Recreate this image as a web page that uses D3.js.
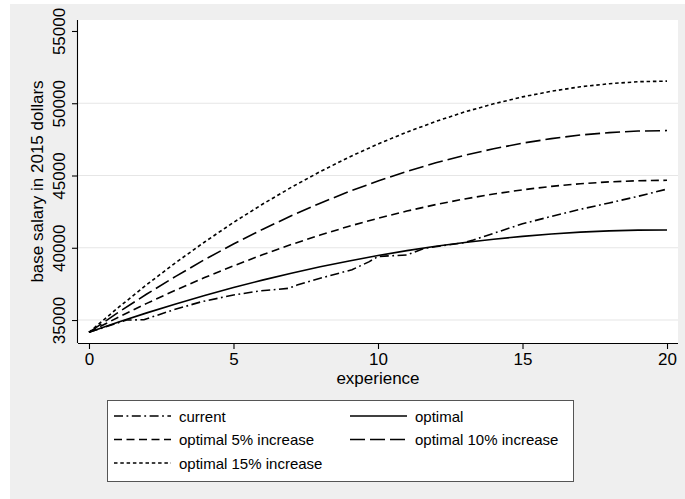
<!DOCTYPE html>
<html>
<head>
<meta charset="utf-8">
<script src="https://cdn.jsdelivr.net/npm/d3@7"></script>
<style>
  body { margin: 0; background: #ffffff; }
  text { font-family: "Liberation Sans", Arial, Helvetica, sans-serif; fill: #000; }
</style>
</head>
<body>
<div id="chart"></div>
<script>
// years of experience for the optimal paths
var years = [0,1,2,3,4,5,6,7,8,9,10,11,12,13,14,15,16,17,18,19,20];

// salary paths
var optimal    = [34150,34840,35495,36115,36700,37250,37760,38240,38680,39090,39460,39800,40100,40360,40590,40790,40950,41080,41170,41220,41230];
var optimal5   = [34150,35180,36150,37070,37940,38750,39515,40225,40880,41490,42040,42540,42990,43380,43720,44010,44250,44430,44560,44640,44670];
var optimal10  = [34150,35510,36800,38020,39180,40260,41270,42210,43085,43890,44620,45280,45880,46400,46850,47240,47550,47800,47970,48075,48110];
var optimal15  = [34150,35840,37450,38970,40400,41750,43010,44180,45270,46270,47180,48000,48740,49400,49960,50440,50830,51140,51350,51490,51530];

// the current schedule is observed at uneven points
var currentYears = [0,1.3,1.9,2.9,3.9,5.0,5.9,6.9,7.2,8.2,9.1,9.7,10.0,11.0,11.6,13.0,13.3,14.0,15.0,16.0,17.0,18.0,19.0,20];
var current      = [34150,35000,35020,35690,36270,36730,37010,37190,37420,38000,38480,39040,39400,39500,39960,40360,40540,41000,41660,42170,42660,43100,43560,44060];

var xTicks = [0,5,10,15,20];
var yTicks = [35000,40000,45000,50000,55000];

var legendNames = ["current","optimal","optimal 5% increase","optimal 10% increase","optimal 15% increase"];
var dashes = ["9,3.5,1.8,3.5", null, "8,4.5", "15,5", "3.5,2.8"];

var svgWidth = 685, svgHeight = 499;
var margin = {top: 20, right: 7, bottom: 156, left: 78};
var width = svgWidth - margin.left - margin.right;   // 600
var height = svgHeight - margin.top - margin.bottom; // 323

var svg = d3.select("#chart").append("svg")
  .attr("width", svgWidth)
  .attr("height", svgHeight);

// graph region
svg.append("rect")
  .attr("x", 10).attr("y", 4)
  .attr("width", svgWidth - 10).attr("height", svgHeight - 4)
  .attr("fill", "#efefef");

var chartGroup = svg.append("g")
  .attr("transform", `translate(${margin.left}, ${margin.top})`);

chartGroup.append("rect")
  .attr("width", width).attr("height", height)
  .attr("fill", "#fff");

var x = d3.scaleLinear().domain([-0.38, 20.38]).range([0, width]);
var y = d3.scaleLinear().domain([33410, 55760]).range([height, 0]);

// grid
chartGroup.selectAll(".grid")
  .data(yTicks.slice(0, 4))
  .enter().append("line")
  .attr("x1", 0).attr("x2", width)
  .attr("y1", d => y(d)).attr("y2", d => y(d))
  .attr("stroke", "#e6e6e6")
  .attr("stroke-width", 1.2);

// axes
var bottomAxis = d3.axisBottom(x).tickValues(xTicks).tickSize(6).tickPadding(4);
var leftAxis = d3.axisLeft(y).tickValues(yTicks).tickFormat(d3.format("d")).tickSize(6);

var gx = chartGroup.append("g")
  .attr("transform", `translate(0, ${height})`)
  .call(bottomAxis);
gx.select(".domain").attr("d", `M0,0.5H${width}`);
gx.selectAll("text").style("font-size", "17px");

var gy = chartGroup.append("g").call(leftAxis);
gy.select(".domain").attr("d", `M-0.5,0V${height}`);
gy.selectAll(".tick text")
  .style("font-size", "17px")
  .attr("text-anchor", "middle")
  .attr("x", null).attr("dy", null)
  .attr("transform", "translate(-13,0) rotate(-90)");

[gx, gy].forEach(function(g) {
  g.selectAll("line, path").attr("stroke", "#000").attr("stroke-width", 1.1);
  g.attr("font-family", null);
});

chartGroup.append("text")
  .attr("x", width / 2).attr("y", height + 41)
  .attr("text-anchor", "middle")
  .style("font-size", "17px")
  .text("experience");

chartGroup.append("text")
  .attr("transform", `translate(-35, ${height / 2}) rotate(-90)`)
  .attr("text-anchor", "middle")
  .style("font-size", "17px")
  .text("base salary in 2015 dollars");

// lines
var line = d3.line()
  .x(d => x(d[0]))
  .y(d => y(d[1]));

var series = [
  d3.zip(currentYears, current),
  d3.zip(years, optimal),
  d3.zip(years, optimal5),
  d3.zip(years, optimal10),
  d3.zip(years, optimal15)
];

chartGroup.selectAll(".series")
  .data(series)
  .enter().append("path")
  .attr("d", line)
  .attr("fill", "none")
  .attr("stroke", "#000")
  .attr("stroke-width", 1.6)
  .attr("stroke-dasharray", (d, i) => dashes[i]);

// legend
var legend = svg.append("g");
legend.append("rect")
  .attr("x", 107.5).attr("y", 400.5)
  .attr("width", 466).attr("height", 81)
  .attr("fill", "#fff")
  .attr("stroke", "#555")
  .attr("stroke-width", 1);

var items = legend.selectAll(".item")
  .data(legendNames)
  .enter().append("g")
  .attr("transform", (d, i) => `translate(${i % 2 ? 350 : 114}, ${416 + Math.floor(i / 2) * 23.5})`);

items.append("line")
  .attr("x1", 0).attr("x2", 57)
  .attr("stroke", "#000")
  .attr("stroke-width", 1.6)
  .attr("stroke-dasharray", (d, i) => dashes[i]);

items.append("text")
  .attr("x", 65).attr("y", 5.5)
  .style("font-size", "15px")
  .text(d => d);
</script>
</body>
</html>
